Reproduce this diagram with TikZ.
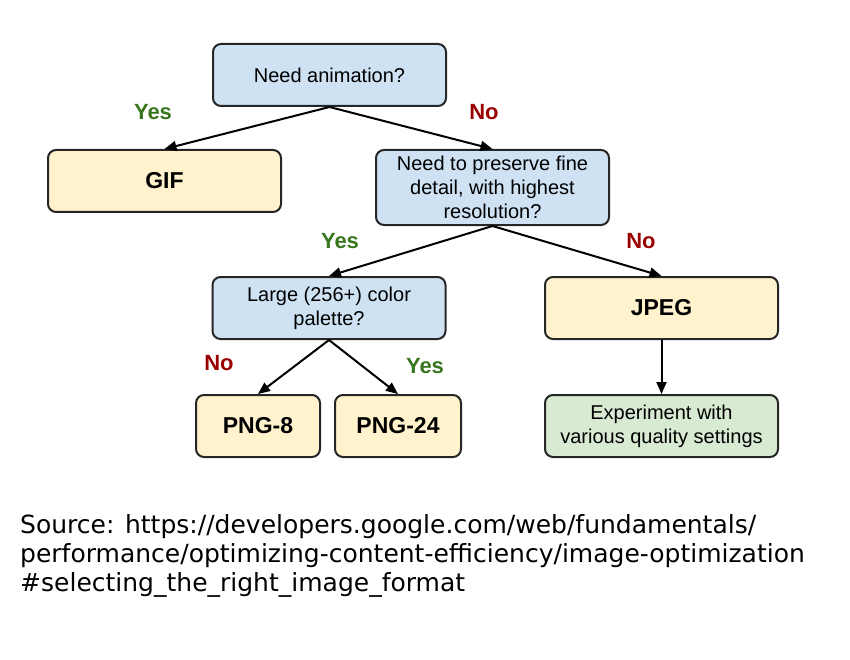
\documentclass[tikz,border=0pt]{standalone}
\usepackage{fontspec}
\setmainfont{Liberation Sans}
\newfontfamily\srcfont{DejaVu Sans}
\usetikzlibrary{arrows.meta}

\definecolor{askblue}{HTML}{CFE2F3}
\definecolor{fmtyellow}{HTML}{FFF2CC}
\definecolor{tipgreen}{HTML}{D9EAD3}
\definecolor{yesgreen}{HTML}{38761D}
\definecolor{nored}{HTML}{990000}

\tikzset{
  box/.style={draw=black!85, line width=2pt, rounded corners=8pt,
    minimum width=233pt, minimum height=62pt, inner sep=0pt, align=center},
  askbox/.style={box, fill=askblue, font=\fontsize{20}{24}\selectfont},
  fmtbox/.style={box, fill=fmtyellow, font=\fontsize{23}{26}\bfseries},
  tipbox/.style={box, fill=tipgreen, font=\fontsize{20}{24}\selectfont},
  yeslabel/.style={text=yesgreen, font=\fontsize{22}{26}\bfseries},
  nolabel/.style={text=nored, font=\fontsize{22}{26}\bfseries},
  flow/.style={line width=2pt, -{Triangle[length=12pt,width=10pt]}},
  srcline/.style={anchor=base west, inner sep=0pt,
    font=\srcfont\fontsize{25}{29}\selectfont}
}

\begin{document}
\begin{tikzpicture}[x=1pt,y=-1pt]
\useasboundingbox (0,0) rectangle (850,660);

\node[askbox] (anim) at (329.5,75) {Need animation?};
\node[fmtbox] (gif) at (164.5,181) {GIF};
\node[askbox, minimum height=75pt] (detail) at (492.5,187.5)
  {Need to preserve fine\\detail, with highest\\resolution?};
\node[askbox] (palette) at (329,308) {Large (256+) color\\palette?};
\node[fmtbox] (jpeg) at (661.5,308) {JPEG};
\node[fmtbox, minimum width=124pt] (png8) at (258,426) {PNG-8};
\node[fmtbox, minimum width=126pt] (png24) at (398,426) {PNG-24};
\node[tipbox] (tune) at (661.5,426) {Experiment with\\various quality settings};

% answers
\node[yeslabel] (yes1) at (153,112) {Yes};
\node[nolabel] (no1) at (484,112) {No};
\node[yeslabel] (yes2) at (340,241) {Yes};
\node[nolabel] (no2) at (641,241) {No};
\node[nolabel] (no3) at (219,363) {No};
\node[yeslabel] (yes3) at (425,366) {Yes};

\draw[flow] (anim.south) -- (gif.north);
\draw[flow] (anim.south) -- (detail.north);
\draw[flow] (detail.south) -- (palette.north);
\draw[flow] (detail.south) -- (jpeg.north);
\draw[flow] (palette.south) -- (png8.north);
\draw[flow] (palette.south) -- (png24.north);
\draw[flow] (jpeg.south) -- (tune.north);

% source
\node[srcline] (src1) at (20,533) {Source: https://developers.google.com/web/fundamentals/};
\node[srcline] (src2) at (20,562) {performance/optimizing-content-efficiency/image-optimization};
\node[srcline] (src3) at (20,591) {\#selecting\_the\_right\_image\_format};

\end{tikzpicture}
\end{document}
